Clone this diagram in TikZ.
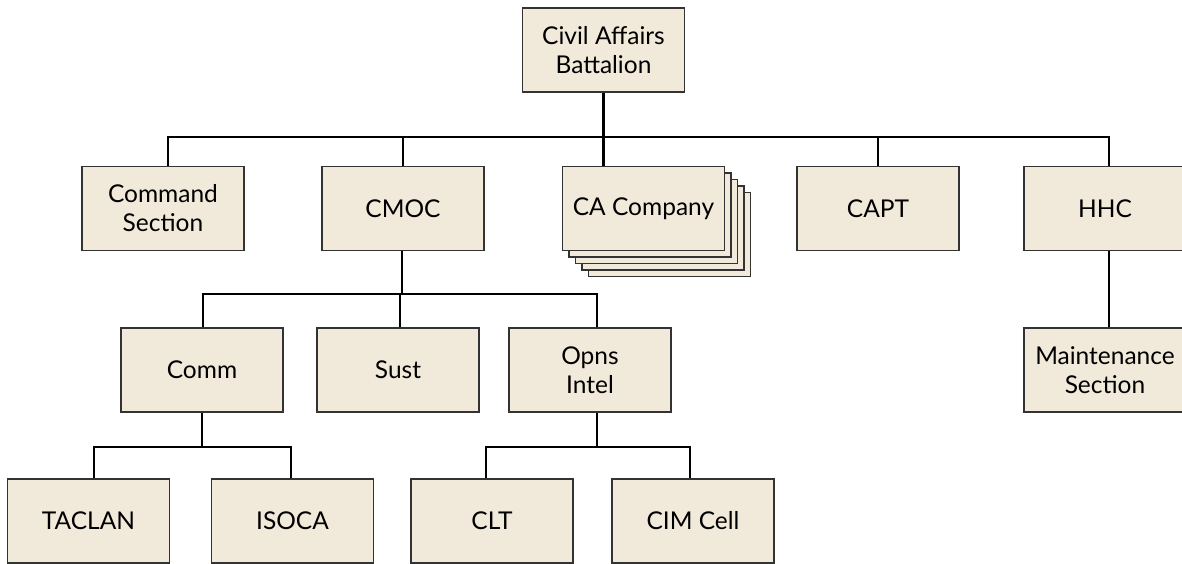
\documentclass[tikz,border=0pt]{standalone}
\usepackage{fontspec}
\setmainfont{Lato}
\definecolor{boxfill}{HTML}{F1E9DA}
\definecolor{boxline}{HTML}{333333}
\begin{document}
\begin{tikzpicture}[x=1pt,y=-1pt,
  unit/.style={draw=boxline, line width=1.5pt, fill=boxfill, minimum width=162pt,
    minimum height=84pt, inner sep=0pt, align=center,
    font=\fontsize{24.5}{29}\selectfont},
  conn/.style={draw=black, line width=2.6pt}]
\useasboundingbox (0,0) rectangle (1182,564);
\clip (0,0) rectangle (1182,564);
% level 1
\node[unit] (top) at (603.5,50) {Civil Affairs\\Battalion};
% level 2
\node[unit] (cmd) at (163,208.5) {Command\\Section};
\node[unit] (cmoc) at (403,208.5) {CMOC};
\node[unit] (ca4) at (669.5,234.5) {};
\node[unit] (ca3) at (663,228) {};
\node[unit] (ca2) at (656.5,221.5) {};
\node[unit] (ca1) at (650,215) {};
\node[unit] (ca) at (643.5,208.5) {CA Company};
\node[unit] (capt) at (878,208.5) {CAPT};
\node[unit] (hhc) at (1105,208.5) {HHC};
% level 3
\node[unit] (comm) at (202,370) {Comm};
\node[unit] (sust) at (398,370) {Sust};
\node[unit] (opns) at (590,370) {Opns\\Intel};
\node[unit] (maint) at (1105,370) {Maintenance\\Section};
% level 4
\node[unit] (taclan) at (88.5,521) {TACLAN};
\node[unit] (isoca) at (292.5,521) {ISOCA};
\node[unit] (clt) at (492,521) {CLT};
\node[unit] (cim) at (693,521) {CIM Cell};
% buses
\coordinate (bus1) at (603.5,137);
\coordinate (bus2) at (401,294);
\coordinate (bus3) at (202,447);
\coordinate (bus4) at (597,447);
% connectors
\draw[conn] (top.south) -- (bus1);
\draw[conn] ([xshift=5pt]cmd.north) |- (bus1) -| ([xshift=4pt]hhc.north);
\draw[conn] (cmoc.north) -- (cmoc.north |- bus1);
\draw[conn] ([xshift=-40pt]ca.north) -- ([xshift=-40pt]ca.north |- bus1);
\draw[conn] (capt.north) -- (capt.north |- bus1);
\draw[conn] ([xshift=-1pt]cmoc.south) -- ([xshift=-1pt]cmoc.south |- bus2);
\draw[conn] ([xshift=1pt]comm.north) |- (bus2) -| ([xshift=7pt]opns.north);
\draw[conn] ([xshift=2pt]sust.north) -- ([xshift=2pt]sust.north |- bus2);
\draw[conn] (comm.south) -- (bus3);
\draw[conn] ([xshift=5.5pt]taclan.north) |- (bus3) -| ([xshift=-1.5pt]isoca.north);
\draw[conn] ([xshift=7pt]opns.south) -- (bus4);
\draw[conn] ([xshift=-6pt]clt.north) |- (bus4) -| ([xshift=-3pt]cim.north);
\draw[conn] ([xshift=4pt]hhc.south) -- ([xshift=4pt]maint.north);
\end{tikzpicture}
\end{document}
